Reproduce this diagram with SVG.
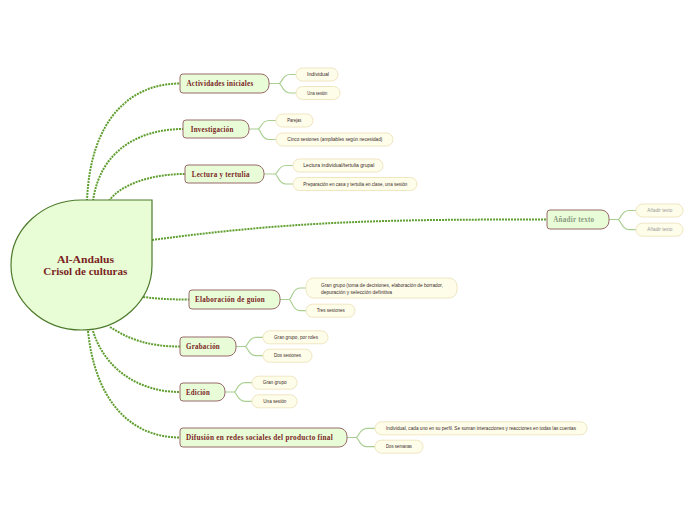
<svg xmlns="http://www.w3.org/2000/svg" width="696" height="520" viewBox="0 0 696 520">
<style>
.main{stroke:#5f9e2f;stroke-width:2;stroke-dasharray:2,1;fill:none}
.sub{stroke:#a8cf90;stroke-width:1.2;fill:none}
.node{fill:#e8fcd8;stroke:#9a6a6a;stroke-width:1}
.pill{fill:#fefde9;stroke:#f0e6c2;stroke-width:1}
.nt{font-family:"Liberation Serif","DejaVu Serif",serif;font-weight:bold;font-size:8px;fill:#7b1f1f;letter-spacing:0.3px}
.st{font-family:"Liberation Sans",Arial,sans-serif;font-size:5px;fill:#3a2a2a}
.gray .nt{fill:#8a9a80}
.gray .st{fill:#999}
</style>
<rect width="696" height="520" fill="#fff"/>
<g id="connectors">
<path class="main" d="M87,201 C90,120 130,83.5 180,83.5"/>
<path class="main" d="M93,201 C100,150 140,129 183,129"/>
<path class="main" d="M109,201 C120,185 150,174 185,174"/>
<path class="main" d="M152,240 C300,220 400,219.5 547,219.5"/>
<path class="main" d="M143,297 C160,299 170,299.5 189,299.5"/>
<path class="main" d="M110,327 C130,340 150,346.5 180,346.5"/>
<path class="main" d="M93,331 C105,370 140,392 180,392"/>
<path class="main" d="M88,331 C95,400 130,437.5 180,437.5"/>
<path class="sub" d="M269,83.5 H279 C282,83.5 282,74.5 290,74.5 H296 M279,83.5 C282,83.5 282,93 290,93 H296"/>
<path class="sub" d="M249,129 H258 C261,129 261,120.5 269,120.5 H276 M258,129 C261,129 261,139.5 269,139.5 H276"/>
<path class="sub" d="M264,174 H275 C278,174 278,165.5 286,165.5 H293 M275,174 C278,174 278,184 286,184 H293"/>
<path class="sub" d="M609,219.5 H618 C621,219.5 621,210.5 629,210.5 H636 M618,219.5 C621,219.5 621,229.7 629,229.7 H636"/>
<path class="sub" d="M280,299.5 H289 C292,299.5 292,288 300,288 H306 M289,299.5 C292,299.5 292,310.7 300,310.7 H306"/>
<path class="sub" d="M236,346.5 H245 C248,346.5 248,337.3 256,337.3 H263 M245,346.5 C248,346.5 248,355.7 256,355.7 H263"/>
<path class="sub" d="M225,392 H234 C237,392 237,382.7 245,382.7 H252 M234,392 C237,392 237,401.3 245,401.3 H252"/>
<path class="sub" d="M347,437.5 H356 C359,437.5 359,428.3 367,428.3 H375 M356,437.5 C359,437.5 359,446.7 367,446.7 H375"/>
</g>
<g id="central">
<path d="M81.5,200 H152 V265 A70.5,65 0 1 1 81.5,200 Z" fill="#e8fcd6" stroke="#4c7a2a" stroke-width="1.2"/>
<text x="85.5" y="263" text-anchor="middle" font-family="Liberation Serif,DejaVu Serif,serif" font-weight="bold" font-size="11" fill="#7b1f1f" textLength="57" lengthAdjust="spacingAndGlyphs">Al-Andalus</text>
<text x="85.3" y="275" text-anchor="middle" font-family="Liberation Serif,DejaVu Serif,serif" font-weight="bold" font-size="11" fill="#7b1f1f" textLength="84" lengthAdjust="spacingAndGlyphs">Crisol de culturas</text>
</g>
<g id="n-actividades">
<path class="node" d="M183,74 H261 A8,8 0 0 1 269,82 V85 A8,8 0 0 1 261,93 H183 A3,3 0 0 1 180,90 V77 A3,3 0 0 1 183,74 Z"/>
<text class="nt" x="186.5" y="86.3" textLength="67" lengthAdjust="spacingAndGlyphs">Actividades iniciales</text>
<rect class="pill" x="296" y="68" width="42" height="13" rx="6.5"/>
<text class="st" x="307" y="76.2" textLength="22" lengthAdjust="spacingAndGlyphs">Individual</text>
<rect class="pill" x="296" y="86.5" width="44" height="13" rx="6.5"/>
<text class="st" x="307.3" y="94.7" textLength="20" lengthAdjust="spacingAndGlyphs">Una sesión</text>
</g>
<g id="n-investigacion">
<path class="node" d="M186,120 H241 A8,8 0 0 1 249,128 V130 A8,8 0 0 1 241,138 H186 A3,3 0 0 1 183,135 V123 A3,3 0 0 1 186,120 Z"/>
<text class="nt" x="190.7" y="131.8" textLength="43" lengthAdjust="spacingAndGlyphs">Investigación</text>
<rect class="pill" x="276" y="114" width="37" height="13" rx="6.5"/>
<text class="st" x="287.3" y="122.2" textLength="14" lengthAdjust="spacingAndGlyphs">Parejas</text>
<rect class="pill" x="276" y="133" width="117" height="13" rx="6.5"/>
<text class="st" x="287.3" y="141.2" textLength="95" lengthAdjust="spacingAndGlyphs">Cinco sesiones (ampliables según necesidad)</text>
</g>
<g id="n-lectura">
<path class="node" d="M188,165 H256 A8,8 0 0 1 264,173 V175 A8,8 0 0 1 256,183 H188 A3,3 0 0 1 185,180 V168 A3,3 0 0 1 188,165 Z"/>
<text class="nt" x="191.7" y="176.8" textLength="58" lengthAdjust="spacingAndGlyphs">Lectura y tertulia</text>
<rect class="pill" x="293" y="159" width="90" height="13" rx="6.5"/>
<text class="st" x="303.3" y="167.2" textLength="71" lengthAdjust="spacingAndGlyphs">Lectura individual/tertulia grupal</text>
<rect class="pill" x="293" y="177.5" width="124" height="13" rx="6.5"/>
<text class="st" x="303.3" y="185.7" textLength="104" lengthAdjust="spacingAndGlyphs">Preparación en casa y tertulia en clase, una sesión</text>
</g>
<g id="n-anadir" class="gray">
<path class="node" d="M550,210 H601 A8,8 0 0 1 609,218 V221 A8,8 0 0 1 601,229 H550 A3,3 0 0 1 547,226 V213 A3,3 0 0 1 550,210 Z"/>
<text class="nt" x="553.3" y="222.3" textLength="41" lengthAdjust="spacingAndGlyphs">Añadir texto</text>
<rect class="pill" x="636" y="204" width="47" height="13" rx="6.5"/>
<text class="st" x="647.3" y="212.2" textLength="25" lengthAdjust="spacingAndGlyphs">Añadir texto</text>
<rect class="pill" x="636" y="223.2" width="47" height="13" rx="6.5"/>
<text class="st" x="647.3" y="231.4" textLength="25" lengthAdjust="spacingAndGlyphs">Añadir texto</text>
</g>
<g id="n-elaboracion">
<path class="node" d="M192,290 H272 A8,8 0 0 1 280,298 V301 A8,8 0 0 1 272,309 H192 A3,3 0 0 1 189,306 V293 A3,3 0 0 1 192,290 Z"/>
<text class="nt" x="195" y="302.3" textLength="70" lengthAdjust="spacingAndGlyphs">Elaboración de guion</text>
<rect class="pill" x="306" y="278" width="151" height="20" rx="8"/>
<text class="st" x="321" y="286.6" textLength="122" lengthAdjust="spacingAndGlyphs">Gran grupo (toma de decisiones, elaboración de borrador,</text>
<text class="st" x="321" y="293.8" textLength="71" lengthAdjust="spacingAndGlyphs">depuración y selección definitiva</text>
<rect class="pill" x="306" y="304.2" width="49" height="13" rx="6.5"/>
<text class="st" x="316.7" y="312.4" textLength="28" lengthAdjust="spacingAndGlyphs">Tres sesiones</text>
</g>
<g id="n-grabacion">
<path class="node" d="M183,337 H228 A8,8 0 0 1 236,345 V348 A8,8 0 0 1 228,356 H183 A3,3 0 0 1 180,353 V340 A3,3 0 0 1 183,337 Z"/>
<text class="nt" x="186" y="349.3" textLength="34" lengthAdjust="spacingAndGlyphs">Grabación</text>
<rect class="pill" x="263" y="330.8" width="65" height="13" rx="6.5"/>
<text class="st" x="274" y="339" textLength="44" lengthAdjust="spacingAndGlyphs">Gran grupo, por roles</text>
<rect class="pill" x="263" y="349.2" width="49" height="13" rx="6.5"/>
<text class="st" x="274" y="357.4" textLength="27" lengthAdjust="spacingAndGlyphs">Dos sesiones</text>
</g>
<g id="n-edicion">
<path class="node" d="M183,383 H217 A8,8 0 0 1 225,391 V393 A8,8 0 0 1 217,401 H183 A3,3 0 0 1 180,398 V386 A3,3 0 0 1 183,383 Z"/>
<text class="nt" x="186" y="394.8" textLength="24" lengthAdjust="spacingAndGlyphs">Edición</text>
<rect class="pill" x="252" y="376.2" width="45" height="13" rx="6.5"/>
<text class="st" x="262.7" y="384.4" textLength="24" lengthAdjust="spacingAndGlyphs">Gran grupo</text>
<rect class="pill" x="252" y="394.8" width="45" height="13" rx="6.5"/>
<text class="st" x="263.3" y="403" textLength="23" lengthAdjust="spacingAndGlyphs">Una sesión</text>
</g>
<g id="n-difusion">
<path class="node" d="M183,428 H339 A8,8 0 0 1 347,436 V439 A8,8 0 0 1 339,447 H183 A3,3 0 0 1 180,444 V431 A3,3 0 0 1 183,428 Z"/>
<text class="nt" x="186" y="440.3" textLength="147" lengthAdjust="spacingAndGlyphs">Difusión en redes sociales del producto final</text>
<rect class="pill" x="375" y="421.8" width="212" height="13" rx="6.5"/>
<text class="st" x="386" y="430" textLength="190" lengthAdjust="spacingAndGlyphs">Individual, cada uno en su perfil. Se suman interacciones y reacciones en todas las cuentas</text>
<rect class="pill" x="375" y="440.2" width="48" height="13" rx="6.5"/>
<text class="st" x="386" y="448.4" textLength="26" lengthAdjust="spacingAndGlyphs">Dos semanas</text>
</g>
</svg>
